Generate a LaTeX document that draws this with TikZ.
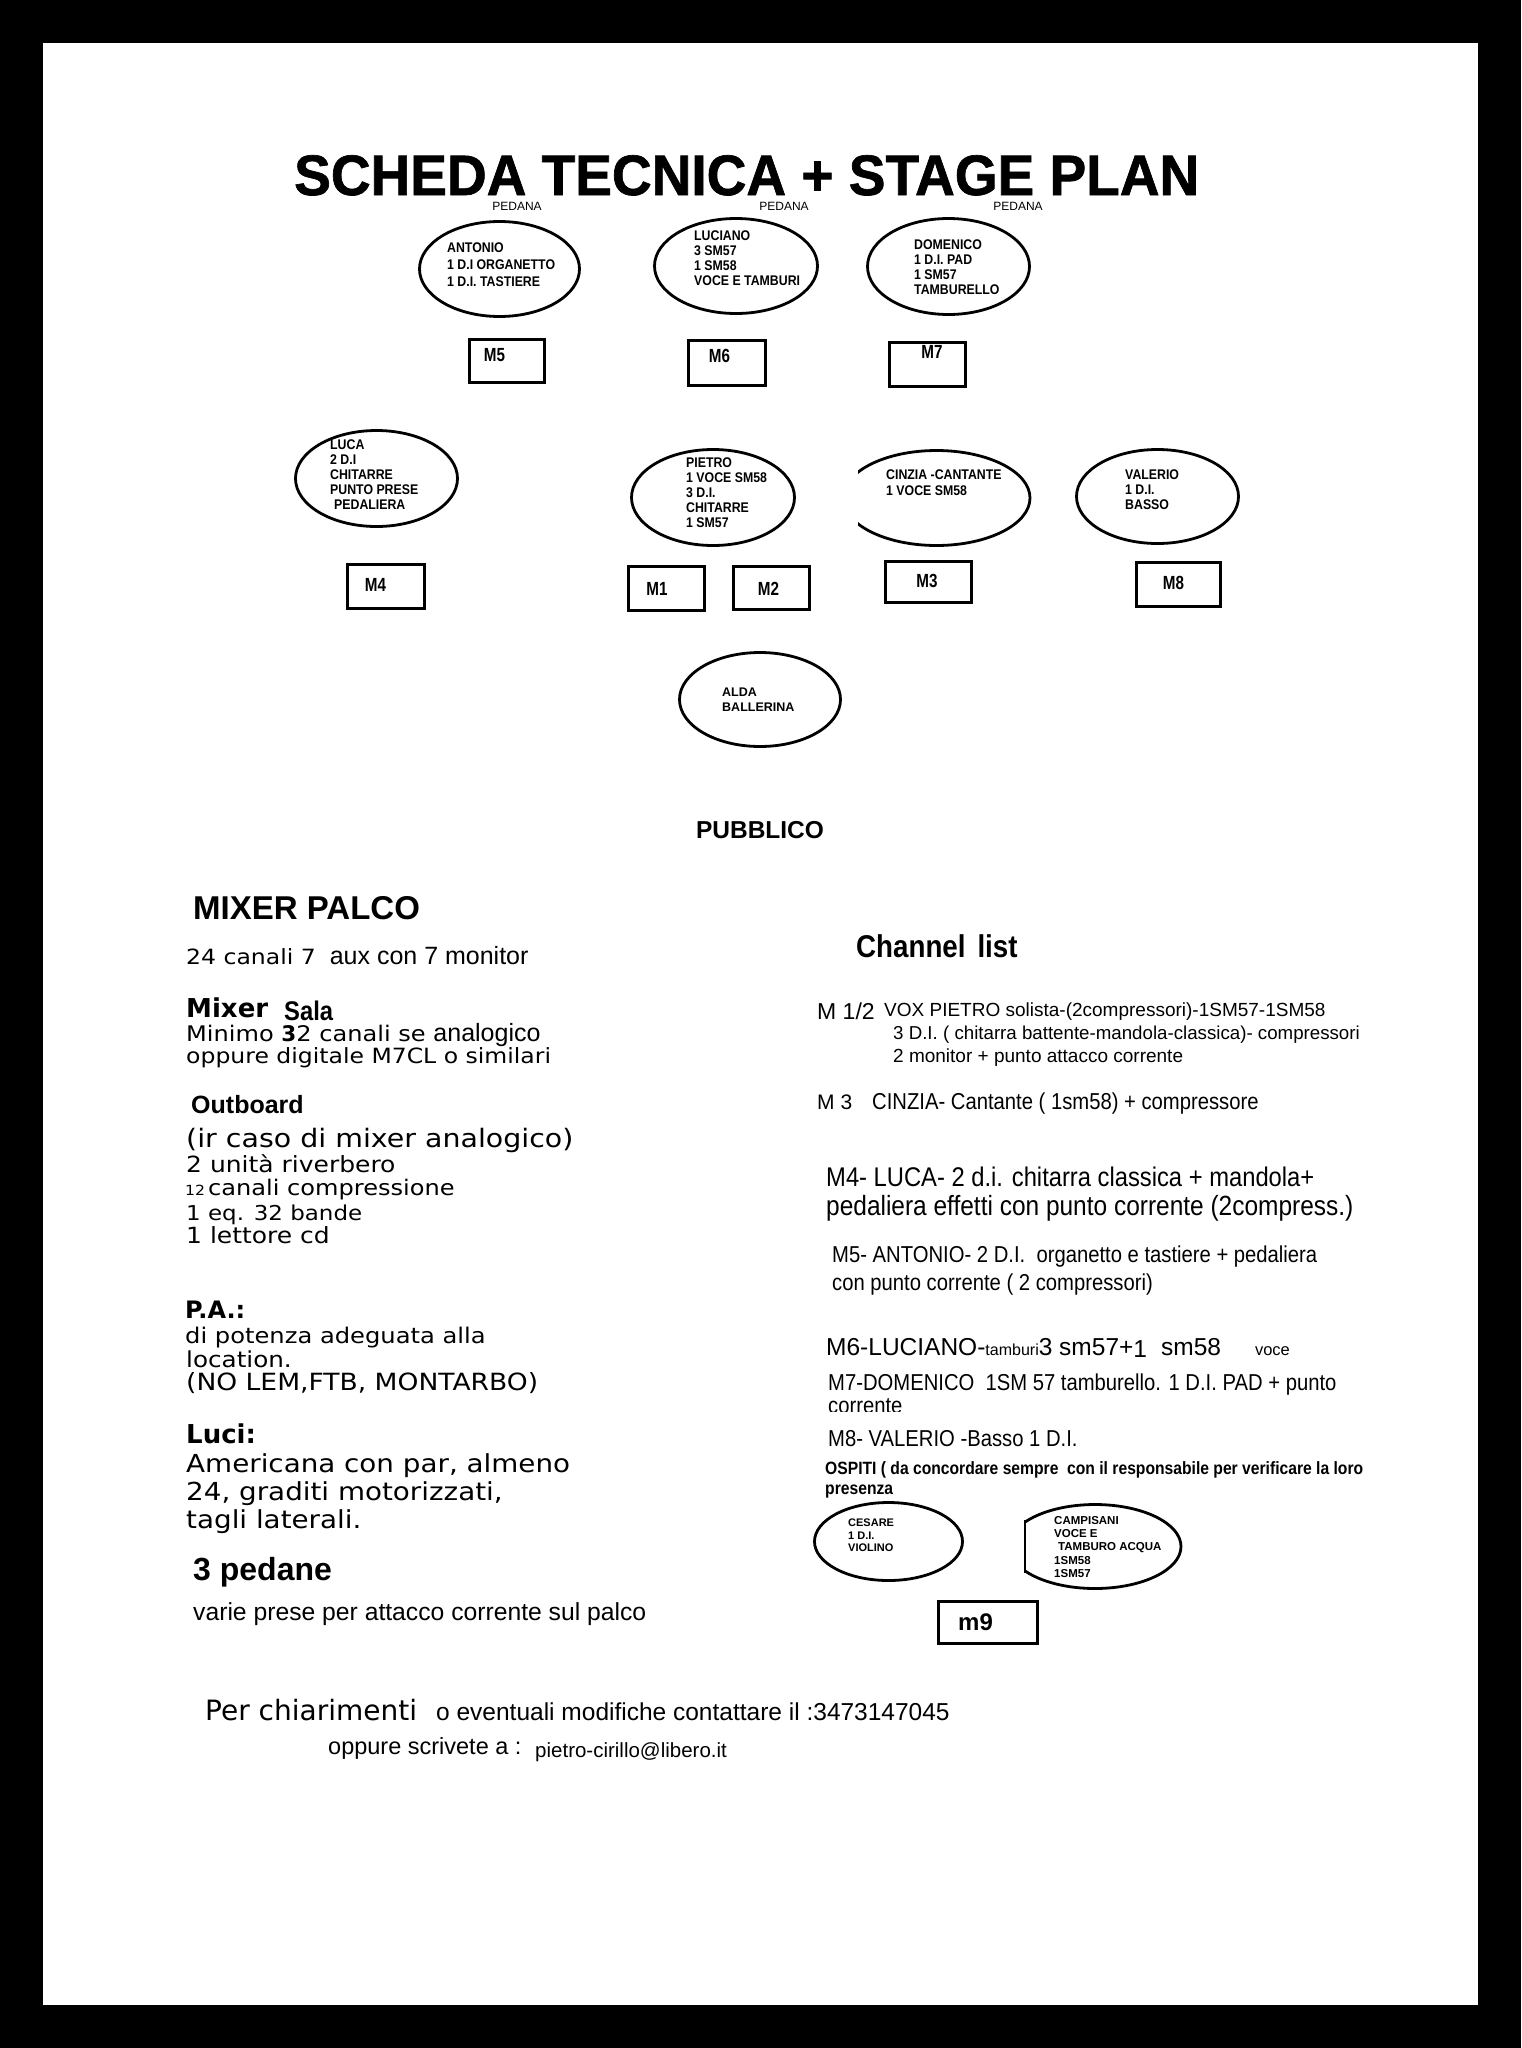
\documentclass[tikz,border=0pt]{standalone}
\usepackage{fontspec}
\setmainfont{Liberation Sans}
\newfontfamily\titlefont[FakeStretch=0.965,FakeBold=1.2]{Liberation Sans}
\newfontfamily\narrowfont[FakeStretch=0.88]{Liberation Sans}
\newfontfamily\condfont[FakeStretch=0.8]{Liberation Sans}
\newfontfamily\verdfont[FakeStretch=1.12]{DejaVu Sans}
\newfontfamily\dejafont{DejaVu Sans}
\newcommand{\fsz}[2]{\fontsize{#1}{#2}\selectfont}
\usetikzlibrary{shapes.geometric}

\begin{document}
\begin{tikzpicture}[x=1pt, y=-1pt,
    stagepos/.style={draw, ellipse, line width=2.8pt, inner sep=0pt},
    mbox/.style={draw, line width=2.8pt, inner sep=0pt},
    mlab/.style={inner sep=0pt, font=\condfont\bfseries\fsz{19}{19}},
    who/.style={align=left, anchor=north west, inner sep=0pt, font=\narrowfont\bfseries\fsz{14}{15}},
    txt/.style={anchor=base west, inner sep=0pt}]
  \useasboundingbox (0,0) rectangle (1521,2048);
  \fill[black] (0,0) rectangle (1521,2048);
  \fill[white] (43,43) rectangle (1478,2005);

  \node[txt, font=\titlefont\bfseries\fsz{57}{57}] (title) at (294,195) {SCHEDA TECNICA + STAGE PLAN};
  \foreach \px/\pn in {517/1,784/2,1018/3}
    \node[anchor=base, inner sep=0pt, font=\fsz{12}{12}] (ped\pn) at (\px,210) {PEDANA};

  % pedane
  \node[stagepos, minimum width=160pt, minimum height=95pt] (antonio) at (499.5,269) {};
  \node[stagepos, minimum width=163pt, minimum height=95pt] (luciano) at (736,266) {};
  \node[stagepos, minimum width=162pt, minimum height=96pt] (domenico) at (948.5,266.5) {};
  \node[who, font=\narrowfont\bfseries\fsz{14}{17}] (antoniot) at (447,243) {ANTONIO\\1 D.I ORGANETTO\\1 D.I. TASTIERE};
  \node[who] (lucianot) at (694,231) {LUCIANO\\3 SM57\\1 SM58\\VOCE E TAMBURI};
  \node[who] (domenicot) at (914,240) {DOMENICO\\1 D.I. PAD\\1 SM57\\TAMBURELLO};

  \node[mbox, minimum width=75pt, minimum height=43pt] (m5) at (507,361) {};
  \node[mbox, minimum width=77pt, minimum height=45pt] (m6) at (727,363) {};
  \node[mbox, minimum width=76pt, minimum height=44pt] (m7) at (927.5,364.5) {};
  \node[mlab] (m5t) at (494.5,355) {M5};
  \node[mlab] (m6t) at (719.5,356) {M6};
  \node[mlab] (m7t) at (932,351.5) {M7};

  % fronte palco
  \node[stagepos, minimum width=162pt, minimum height=96pt] (luca) at (376.5,478.5) {};
  \node[stagepos, minimum width=163pt, minimum height=96pt] (pietro) at (713,497.5) {};
  \begin{scope}
    \clip (858,440) rectangle (1050,560);
    \node[stagepos, minimum width=187pt, minimum height=95pt] (cinzia) at (936.5,498) {};
  \end{scope}
  \node[stagepos, minimum width=162pt, minimum height=94pt] (valerio) at (1157.5,496.5) {};
  \node[who] (lucat) at (330,440) {LUCA\\2 D.I\\CHITARRE\\PUNTO PRESE\\\hspace{4pt}PEDALIERA};
  \node[who] (pietrot) at (686,458) {PIETRO\\1 VOCE SM58\\3 D.I.\\CHITARRE\\1 SM57};
  \node[who, font=\narrowfont\bfseries\fsz{14}{16}] (cinziat) at (886,470) {CINZIA -CANTANTE\\1 VOCE SM58};
  \node[who] (valeriot) at (1125,470) {VALERIO\\1 D.I.\\BASSO};

  \node[mbox, minimum width=77pt, minimum height=44pt] (m4) at (386,586.5) {};
  \node[mbox, minimum width=76pt, minimum height=44pt] (m1) at (666.5,588.5) {};
  \node[mbox, minimum width=76pt, minimum height=43pt] (m2) at (771.5,588) {};
  \node[mbox, minimum width=86pt, minimum height=41pt] (m3) at (928.5,582) {};
  \node[mbox, minimum width=84pt, minimum height=44pt] (m8) at (1178.5,584.5) {};
  \node[mlab] (m4t) at (375.5,585) {M4};
  \node[mlab] (m1t) at (657,589) {M1};
  \node[mlab] (m2t) at (768.5,589) {M2};
  \node[mlab] (m3t) at (927,581) {M3};
  \node[mlab] (m8t) at (1173.5,583) {M8};

  \node[stagepos, minimum width=161pt, minimum height=94pt] (alda) at (760,699.5) {};
  \node[who, font=\bfseries\fsz{12.5}{15}] (aldat) at (722,687.5) {ALDA\\BALLERINA};
  \node[anchor=base, inner sep=0pt, font=\bfseries\fsz{24.5}{24.5}] (pubblico) at (760,838) {PUBBLICO};

  % colonna sinistra
  \node[txt, font=\bfseries\fsz{33}{33}] (mixpalco) at (193,919) {MIXER PALCO};
  \node[txt] (aux) at (186,964) {{\verdfont\fsz{21}{21}24 canali 7}\hspace{14pt}{\fsz{25}{25}aux con 7 monitor}};
  \node[txt] (mixsala) at (186,1017) {{\dejafont\bfseries\fsz{26}{26}Mixer}\hspace{16pt}\raisebox{-3pt}{\narrowfont\bfseries\fsz{27}{27}Sala}};
  \node[txt] (minimo) at (186,1041) {{\verdfont\fsz{21.5}{21.5}Minimo }{\dejafont\bfseries\fsz{21.5}{21.5}3}{\verdfont\fsz{21.5}{21.5}2 canali se }{\fsz{25}{25}analogico}};
  \node[txt, font=\verdfont\fsz{21}{21}] (digitale) at (186,1063) {oppure digitale M7CL o similari};
  \node[txt, font=\bfseries\fsz{25}{25}] (outboard) at (191,1113) {Outboard};
  \node[txt, font=\verdfont\fsz{25.4}{25.4}] (incaso) at (186,1147) {(ir caso di mixer analogico)};
  \node[txt, font=\verdfont\fsz{22.3}{22.3}] (riverbero) at (186,1172) {2 unità riverbero};
  \node[txt] (compr) at (185,1195) {{\verdfont\fsz{14}{14}12}\hspace{3pt}{\verdfont\fsz{21.5}{21.5}canali compressione}};
  \node[txt, font=\verdfont\fsz{20.5}{20.5}] (eq) at (186,1220) {1 eq. 32 bande};
  \node[txt, font=\verdfont\fsz{22.3}{22.3}] (cd) at (186,1243) {1 lettore cd};

  \node[txt, font=\dejafont\bfseries\fsz{24}{24}] (pa) at (185,1318) {P.A.:};
  \node[txt, font=\verdfont\fsz{21.6}{21.6}] (pa1) at (185,1343) {di potenza adeguata alla};
  \node[txt, font=\verdfont\fsz{22}{22}] (pa2) at (186,1367) {location.};
  \node[txt, font=\verdfont\fsz{23.7}{23.7}] (pa3) at (186,1390) {(NO LEM,FTB, MONTARBO)};
  \node[txt, font=\dejafont\bfseries\fsz{26}{26}] (luci) at (186,1443) {Luci:};
  \node[txt, font=\verdfont\fsz{24.8}{24.8}] (luci1) at (186,1472) {Americana con par, almeno};
  \node[txt, font=\verdfont\fsz{24.8}{24.8}] (luci2) at (186,1500) {24, graditi motorizzati,};
  \node[txt, font=\verdfont\fsz{24.8}{24.8}] (luci3) at (186,1528) {tagli laterali.};
  \node[txt, font=\bfseries\fsz{32}{32}] (pedane) at (193,1580) {3 pedane};
  \node[txt, font=\fsz{24.7}{24.7}] (prese) at (193,1620) {varie prese per attacco corrente sul palco};

  % channel list
  \node[txt, font=\narrowfont\bfseries\fsz{31.5}{31.5}] (chlist) at (856,957) {Channel\hspace{12pt}list};
  \node[txt, font=\fsz{23}{23}] (ch12) at (817,1019) {M 1/2};
  \node[txt, font=\fsz{19}{19}] (ch12a) at (884,1016) {VOX PIETRO solista-(2compressori)-1SM57-1SM58};
  \node[txt, font=\fsz{18.7}{18.7}] (ch12b) at (893,1039) {3 D.I. ( chitarra battente-mandola-classica)- compressori};
  \node[txt, font=\fsz{19}{19}] (ch12c) at (893,1062) {2 monitor + punto attacco corrente};
  \node[txt, font=\fsz{21}{21}] (ch3) at (817,1109) {M 3};
  \node[txt, font=\narrowfont\fsz{23}{23}] (ch3a) at (872,1109) {CINZIA- Cantante ( 1sm58) + compressore};
  \node[txt, font=\narrowfont\fsz{27}{27}] (ch4a) at (826,1186) {M4- LUCA- 2 d.i. chitarra classica + mandola+};
  \node[txt, font=\narrowfont\fsz{27.8}{27.8}] (ch4b) at (826,1215) {pedaliera effetti con punto corrente (2compress.)};
  \node[txt, font=\narrowfont\fsz{23}{23}] (ch5a) at (832,1262) {M5- ANTONIO- 2 D.I.\ \ organetto e tastiere + pedaliera};
  \node[txt, font=\narrowfont\fsz{23}{23}] (ch5b) at (832,1290) {con punto corrente ( 2 compressori)};
  \node[txt, font=\fsz{24.5}{24.5}] (ch6) at (826,1355) {M6-LUCIANO-{\fsz{16}{16}tamburi}3 sm57+\raisebox{-2pt}{1}\hspace{14pt}sm58\hspace{34pt}{\fsz{16.5}{16.5}voce}};
  \node[txt, font=\narrowfont\fsz{23}{23}] (ch7) at (828,1390) {M7-DOMENICO\ \ 1SM 57 tamburello. 1 D.I. PAD + punto};
  \begin{scope}
    \clip (820,1395) rectangle (920,1411);
    \node[txt, font=\narrowfont\fsz{23}{23}] (ch7b) at (828,1413) {corrente};
  \end{scope}
  \node[txt, font=\narrowfont\fsz{23}{23}] (ch8) at (828,1446) {M8- VALERIO -Basso 1 D.I.};
  \node[txt, font=\narrowfont\bfseries\fsz{17.8}{17.8}] (ospiti) at (825,1474) {OSPITI ( da concordare sempre\ \ con il responsabile per verificare la loro};
  \node[txt, font=\narrowfont\bfseries\fsz{17.8}{17.8}] (presenza) at (825,1494) {presenza};

  % ospiti
  \node[stagepos, minimum width=148pt, minimum height=78pt] (cesare) at (888.5,1541.5) {};
  \node[who, font=\bfseries\fsz{11}{12.5}] (cesaret) at (848,1519) {CESARE\\1 D.I.\\VIOLINO};
  \begin{scope}
    \clip (1025,1495) rectangle (1195,1600);
    \node[stagepos, minimum width=172pt, minimum height=84pt] (campisani) at (1095,1546.5) {};
  \end{scope}
  \draw[line width=2.8pt] (1025,1520) -- (1025,1573);
  \node[who, font=\bfseries\fsz{11.5}{13.3}] (campisanit) at (1054,1516) {CAMPISANI\\VOCE E\\\hspace{4pt}TAMBURO ACQUA\\1SM58\\1SM57};
  \node[mbox, minimum width=99pt, minimum height=42pt] (m9) at (988,1622.5) {};
  \node[txt, font=\bfseries\fsz{24}{24}] (m9t) at (958,1630) {m9};

  % contatti
  \node[txt, font=\dejafont\fsz{28}{28}] (chiar) at (205,1720) {Per chiarimenti};
  \node[txt, font=\fsz{24.5}{24.5}] (tel) at (436,1720) {o eventuali modifiche contattare il :3473147045};
  \node[txt, font=\fsz{23.5}{23.5}] (scrivete) at (328,1754) {oppure scrivete a :};
  \node[txt, font=\fsz{20.5}{20.5}] (mail) at (535,1757) {pietro-cirillo@libero.it};
\end{tikzpicture}
\end{document}
